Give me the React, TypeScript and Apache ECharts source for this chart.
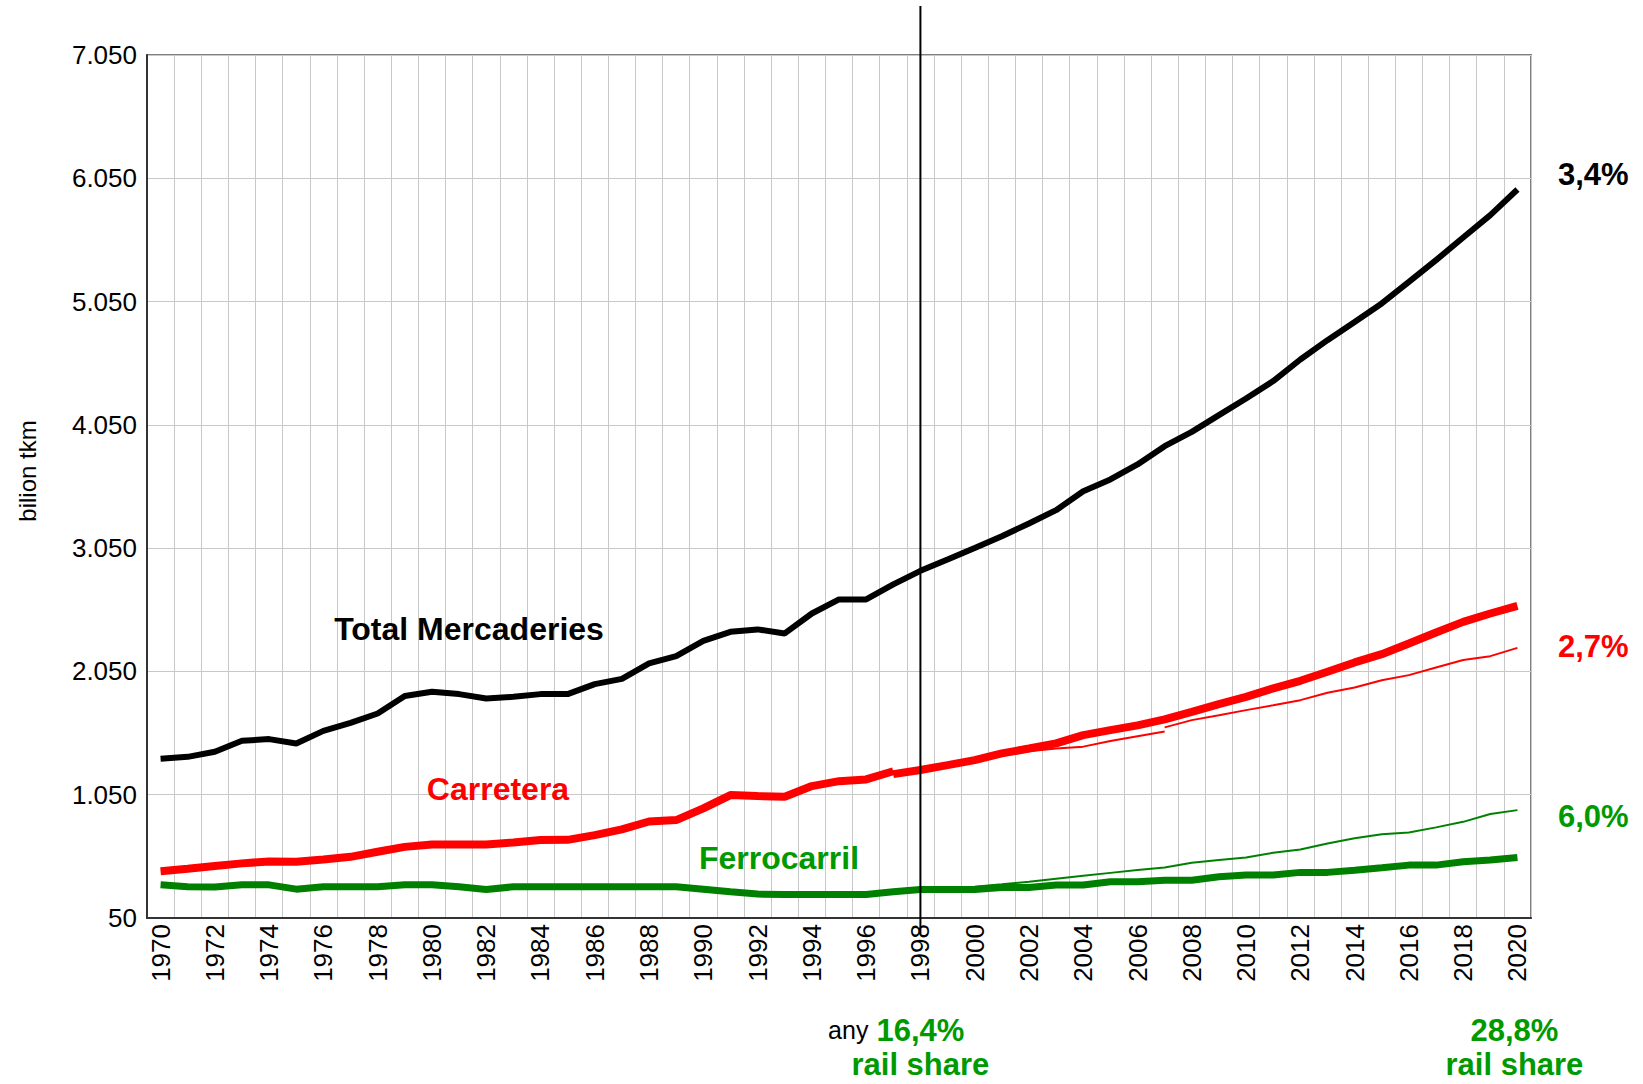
import React, { useEffect, useRef } from 'react';
import * as echarts from 'echarts';

const years = [
  '1970','1971','1972','1973','1974','1975','1976','1977','1978','1979',
  '1980','1981','1982','1983','1984','1985','1986','1987','1988','1989',
  '1990','1991','1992','1993','1994','1995','1996','1997','1998','1999',
  '2000','2001','2002','2003','2004','2005','2006','2007','2008','2009',
  '2010','2011','2012','2013','2014','2015','2016','2017','2018','2019','2020',
];

// Total Mercaderies (1970-2020)
const totalValues = [
  1341, 1357, 1398, 1487, 1501, 1466, 1568, 1633, 1709, 1850,
  1885, 1866, 1831, 1844, 1866, 1866, 1947, 1990, 2115, 2174,
  2298, 2371, 2391, 2358, 2520, 2634, 2634, 2756, 2866, 2958,
  3052, 3147, 3250, 3358, 3512, 3607, 3729, 3877, 3993, 4129,
  4264, 4405, 4580, 4737, 4885, 5035, 5210, 5386, 5570, 5751, 5959,
];

// Carretera historical (1970-1997)
const roadHistory = [
  430, 449, 471, 493, 509, 506, 525, 546, 587, 627,
  647, 647, 647, 663, 682, 684, 722, 769, 833, 844,
  939, 1047, 1039, 1033, 1120, 1160, 1174, 1240,
];
// Carretera projection, thick (1997-2020)
const roadProjection = [
  1217, 1250, 1290, 1331, 1385, 1425, 1466, 1533, 1574, 1612,
  1661, 1722, 1785, 1844, 1912, 1974, 2047, 2123, 2190, 2277,
  2366, 2452, 2520, 2582,
];
// Carretera alternative, thin (1997-2007)
const roadAltA = [1217, 1250, 1288, 1325, 1365, 1402, 1425, 1440, 1485, 1524, 1562];
// Carretera alternative, thin (2007-2020)
const roadAltB = [1596, 1655, 1695, 1736, 1776, 1817, 1877, 1920, 1979, 2020, 2082, 2142, 2174, 2241];

// Ferrocarril (1970-2020), thick
const railMain = [
  319, 303, 302, 319, 319, 284, 303, 303, 303, 319,
  319, 303, 282, 303, 303, 303, 303, 303, 303, 303,
  284, 263, 244, 241, 241, 241, 241, 263, 282, 282,
  282, 298, 298, 317, 317, 344, 344, 357, 357, 384,
  398, 398, 420, 420, 438, 457, 479, 479, 506, 520, 541,
];
// Ferrocarril alternative, thin (1998-2020)
const railAlt = [
  282, 290, 303, 323, 344, 368, 392, 416, 440, 460,
  498, 520, 541, 579, 606, 655, 696, 730, 744, 785,
  830, 893, 925,
];

const FONT = '"Liberation Sans", Arial, Helvetica, sans-serif';
const GREEN_LINE = '#008000';
const GREEN_TEXT = '#009a00';
const RED = '#ff0000';

function padFrom(startYear: string, values: number[]) {
  const idx = years.indexOf(startYear);
  const out: (number | null)[] = years.map(() => null);
  values.forEach((v, i) => { out[idx + i] = v; });
  return out;
}

function fmt(v: number) {
  if (v >= 1000) {
    const th = Math.floor(v / 1000);
    const rest = String(v % 1000).padStart(3, '0');
    return th + '.' + rest;
  }
  return String(v);
}

export default function App() {
  const ref = useRef<HTMLDivElement>(null);
  useEffect(() => {
    if (!ref.current) return;
    const chart = echarts.init(ref.current, undefined, { renderer: 'svg' });
    const lineBase = { type: 'line', showSymbol: false, symbol: 'none', silent: true, connectNulls: false };
    chart.setOption({
      animation: false,
      backgroundColor: '#ffffff',
      grid: {
        left: 147, right: 112, top: 55, bottom: 166,
        show: true, borderColor: '#808080', borderWidth: 2,
      },
      xAxis: {
        type: 'category',
        data: years,
        boundaryGap: true,
        axisLine: { show: true, lineStyle: { color: '#333333', width: 2 } },
        axisTick: { show: false },
        axisLabel: { interval: 1, rotate: 90, fontSize: 26, color: '#000', fontFamily: FONT, margin: 6 },
        splitLine: { show: true, interval: 0, lineStyle: { color: '#c8c8c8', width: 1 } },
      },
      yAxis: {
        type: 'value',
        min: 50,
        max: 7050,
        interval: 1000,
        axisLine: { show: true, lineStyle: { color: '#333333', width: 2 } },
        axisTick: { show: false },
        axisLabel: { formatter: fmt, fontSize: 26, color: '#000', fontFamily: FONT, margin: 10 },
        splitLine: { show: true, lineStyle: { color: '#c8c8c8', width: 1 } },
      },
      series: [
        { ...lineBase, name: 'Ferrocarril alt', data: padFrom('1998', railAlt), lineStyle: { color: GREEN_LINE, width: 2 } },
        { ...lineBase, name: 'Ferrocarril', data: railMain, lineStyle: { color: GREEN_LINE, width: 7 } },
        { ...lineBase, name: 'Carretera alt A', data: padFrom('1997', roadAltA), lineStyle: { color: RED, width: 2 } },
        { ...lineBase, name: 'Carretera alt B', data: padFrom('2007', roadAltB), lineStyle: { color: RED, width: 2 } },
        { ...lineBase, name: 'Carretera', data: padFrom('1970', roadHistory), lineStyle: { color: RED, width: 8 } },
        { ...lineBase, name: 'Carretera proj', data: padFrom('1997', roadProjection), lineStyle: { color: RED, width: 8 } },
        { ...lineBase, name: 'Total Mercaderies', data: totalValues, lineStyle: { color: '#000000', width: 6 } },
      ],
    });

    const x1998 = chart.convertToPixel({ xAxisIndex: 0 }, '1998') as number;
    const x2020 = chart.convertToPixel({ xAxisIndex: 0 }, '2020') as number;
    const boldFont = (size: number) => `bold ${size}px ${FONT}`;
    const txt = (text: string, x: number, y: number, fill: string, font: string, align = 'center') => ({
      type: 'text', x, y, z: 100,
      style: { text, fill, font, textAlign: align, textVerticalAlign: 'middle' },
    });

    chart.setOption({
      graphic: [
        { type: 'line', z: 100, shape: { x1: x1998, y1: 6, x2: x1998, y2: 934 }, style: { stroke: '#000', lineWidth: 2 } },
        { type: 'text', x: 27, y: 471, rotation: Math.PI / 2, z: 100,
          style: { text: 'bilion tkm', fill: '#000', font: `24px ${FONT}`, textAlign: 'center', textVerticalAlign: 'middle' } },
        txt('Total Mercaderies', 469, 629, '#000', boldFont(32)),
        txt('Carretera', 498, 789, RED, boldFont(32)),
        txt('Ferrocarril', 779, 858, GREEN_TEXT, boldFont(32)),
        txt('3,4%', 1558, 174, '#000', boldFont(31), 'left'),
        txt('2,7%', 1558, 646, RED, boldFont(31), 'left'),
        txt('6,0%', 1558, 816, GREEN_TEXT, boldFont(31), 'left'),
        txt('any', x1998 - 52, 1030, '#000', `25px ${FONT}`, 'right'),
        txt('16,4%', x1998, 1030, GREEN_TEXT, boldFont(31)),
        txt('rail share', x1998, 1064, GREEN_TEXT, boldFont(31)),
        txt('28,8%', x2020 - 3, 1030, GREEN_TEXT, boldFont(31)),
        txt('rail share', x2020 - 3, 1064, GREEN_TEXT, boldFont(31)),
      ],
    });

    return () => { chart.dispose(); };
  }, []);

  return (
    <div
      ref={ref}
      style={{ position: 'absolute', left: 0, top: 0, width: 1643, height: 1084, background: '#fff' }}
    />
  );
}
